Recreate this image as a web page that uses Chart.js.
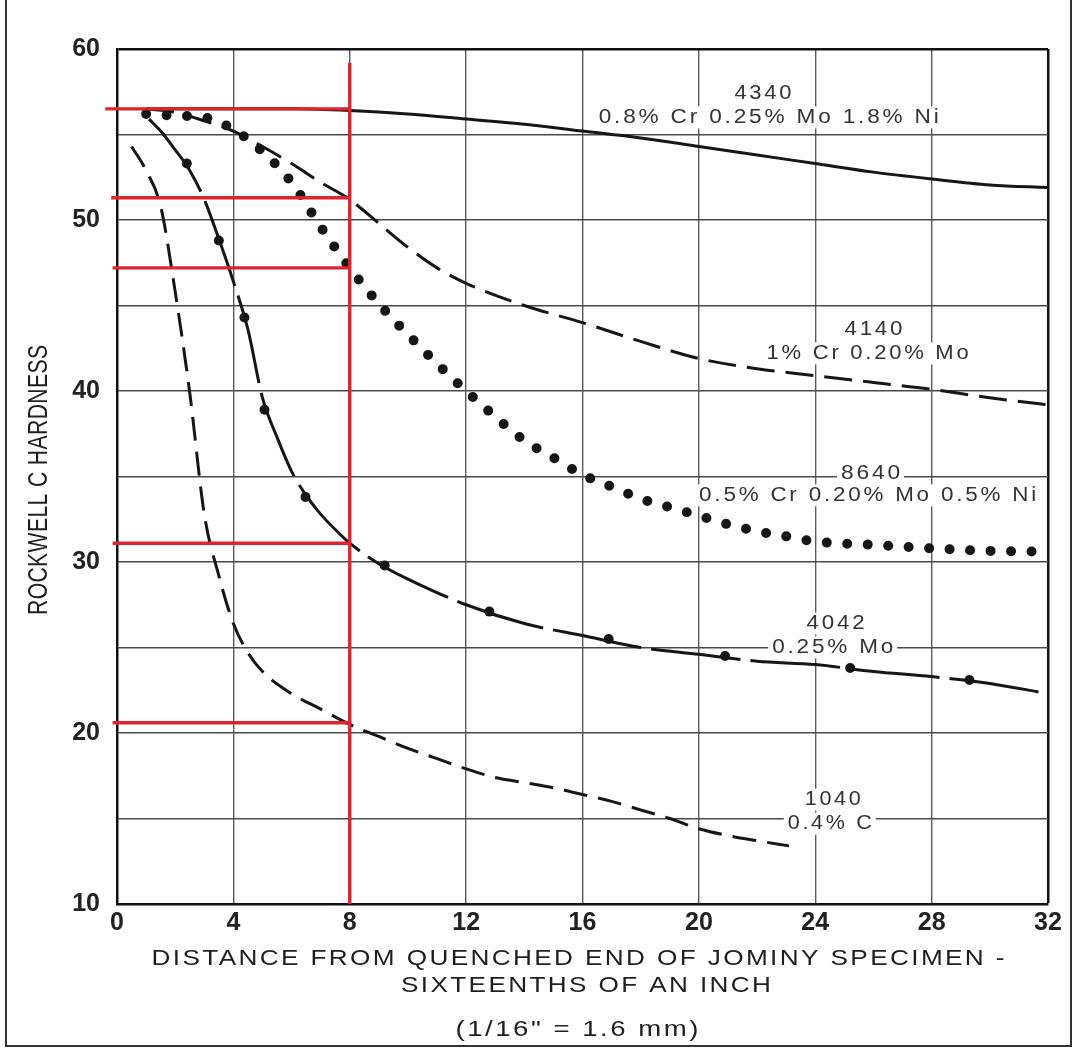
<!DOCTYPE html>
<html><head><meta charset="utf-8">
<script src="https://cdn.jsdelivr.net/npm/chart.js@4/dist/chart.umd.min.js"></script>
<style>html,body{margin:0;padding:0;background:#fff}#wrap{width:1075px;height:1052px;position:relative}canvas{display:block}</style>
</head><body><div id="wrap"><canvas id="c" width="1075" height="1052"></canvas></div>
<script>
// ---------- data ----------
const xTickValues = [0,4,8,12,16,20,24,28,32];
const yTickLabels = [10,20,30,40,50,60];

const x4340 = [1,2,4,6,8,10,12,14,16,18,20,22,24,26,28,30,32];
const y4340 = [56.5,56.5,56.5,56.5,56.4,56.2,55.9,55.6,55.2,54.8,54.3,53.8,53.3,52.8,52.4,52.05,51.9];

const x4140 = [1,2,3,4,5,6,7,8,9,10,11,12,14,16,18,20,22,24,26,28,30,32];
const y4140 = [56.5,56.3,55.8,55.2,54.3,53.3,52.2,51.2,49.8,48.4,47.2,46.3,45.0,44.0,42.9,41.9,41.3,40.9,40.5,40.1,39.6,39.2];

const x8640 = [1,2,3,4,5,6,7,8,9,10,11,12,13,14,15,16,17,18,19,20,21,22,23,24,26,28,30,32];
const y8640 = [56.2,56.1,56.0,55.3,54.0,52.2,49.6,47.2,45.1,43.3,41.6,40.0,38.5,37.1,36.1,35.1,34.4,33.7,33.2,32.7,32.2,31.8,31.5,31.2,31.0,30.8,30.65,30.6];

const x4042 = [1.1,1.5,2,2.5,3,3.5,4,4.5,5,5.5,6,6.5,7,7.5,8,9,10,12,14,16,18,20,22,24,26,28,30,32];
const y4042 = [55.9,55.2,54.1,52.9,51.2,48.9,46.4,43.6,39.6,37.3,35.3,33.9,32.8,31.9,31.1,29.9,29.0,27.5,26.4,25.7,25.0,24.6,24.2,24.0,23.6,23.3,22.9,22.3];
const x4042Dots = [2.4,3.5,4.38,5.07,6.48,9.2,12.8,16.9,20.9,25.2,29.3];
const y4042Dots = [53.3,48.8,44.3,38.9,33.8,29.8,27.1,25.5,24.5,23.8,23.1];

const x1040 = [0.5,1,1.5,2,2.5,3,3.5,4,4.5,5,6,7,8,9,10,11,12,13,14,15,16,17,18,19,20,21,22,23.1];
const y1040 = [54.3,52.9,50.8,45.8,39.9,32.8,29.2,26.4,24.7,23.6,22.3,21.4,20.5,19.8,19.1,18.5,17.9,17.4,17.1,16.8,16.4,16.0,15.5,15.0,14.4,14.0,13.7,13.4];

const redLevels = [56.5,51.3,47.2,31.1,20.6];
const redStartX = [-0.4,-0.2,-0.15,-0.15,-0.15];
const redMarkX = 8;
const redVerticalRange = [10,59.2];

const curveLabels = ['4340','0.8% Cr 0.25% Mo 1.8% Ni','4140','1% Cr 0.20% Mo','8640','0.5% Cr 0.20% Mo 0.5% Ni','4042','0.25% Mo','1040','0.4% C'];
const labelAnchorX = [22.2,22.4,26.0,25.8,25.9,25.8,24.7,24.6,24.6,24.5];
const labelAnchorY = [57.4,56.0,43.6,42.2,35.2,33.9,26.4,25.0,16.1,14.7];

const yTitle = 'ROCKWELL C HARDNESS';
const xTitleLines = ['DISTANCE FROM QUENCHED END OF JOMINY SPECIMEN -','SIXTEENTHS OF AN INCH','(1/16" = 1.6 mm)'];

// ---------- styles ----------
const labelWidths = [57,340,58,202,59,337,58,121,56,84];
const xTitleBoxes = [[578,959,853],[586,986,370],[577,1030,243]];
const FONT = '"Liberation Sans", Arial, sans-serif';
const INK = '#161616';
const RED = '#e0232c';

const pts = (xs, ys) => xs.map((x,i)=>({x, y: ys[i]}));

const datasets = [];
redLevels.forEach((lv,i)=>{
  datasets.push({data:[{x:redStartX[i],y:lv},{x:redMarkX,y:lv}], borderColor:RED, borderWidth:3.4, pointRadius:0, clip:false, order:0});
});
datasets.push({data:[{x:redMarkX,y:redVerticalRange[0]},{x:redMarkX,y:redVerticalRange[1]}], borderColor:RED, borderWidth:3.4, pointRadius:0, clip:false, order:0});

const curveBase = {pointRadius:0, cubicInterpolationMode:'monotone', borderColor:INK, fill:false, order:1};
datasets.push({...curveBase, data:pts(x4340,y4340), borderWidth:3});
datasets.push({...curveBase, data:pts(x4140,y4140), borderWidth:3, borderDash:[28,11]});
datasets.push({...curveBase, data:pts(x8640,y8640), borderWidth:10, borderDash:[0,20.5], borderCapStyle:'round'});
datasets.push({...curveBase, data:pts(x4042,y4042), borderWidth:3, borderDash:[90,10]});
datasets.push({data:pts(x4042Dots,y4042Dots), showLine:false, pointRadius:5, pointBackgroundColor:INK, pointBorderWidth:0, order:1});
datasets.push({...curveBase, data:pts(x1040,y1040), borderWidth:3, borderDash:[24,11]});

// text centred at (cx,cy), fixed letter spacing, stretched horizontally to the target width
function fitText(ctx, text, cx, cy, font, width, ls){
  ctx.save();
  ctx.font = font; ctx.letterSpacing = ls + 'px';
  const n = [...text].length;
  const total = ctx.measureText(text).width - ls; // drop trailing spacing
  const sx = width / total;
  ctx.translate(cx, cy);
  ctx.scale(sx, 1);
  ctx.textAlign = 'left'; ctx.textBaseline = 'middle';
  ctx.fillText(text, -total/2, 0);
  ctx.restore();
}

const decor = {
  id:'decor',
  beforeDatasetsDraw(chart){
    const ctx = chart.ctx, xs = chart.scales.x, ys = chart.scales.y;
    ctx.save();
    curveLabels.forEach((t,i)=>{
      const cx = xs.getPixelForValue(labelAnchorX[i]);
      const cy = ys.getPixelForValue(labelAnchorY[i]);
      ctx.fillStyle = '#fff';
      ctx.fillRect(cx - labelWidths[i]/2 - 4, cy - 11, labelWidths[i] + 8, 22);
      ctx.fillStyle = '#333';
      fitText(ctx, t, cx, cy, '20px ' + FONT, labelWidths[i], 2.5);
    });
    ctx.restore();
  },
  afterDraw(chart){
    const ctx = chart.ctx;
    ctx.save();
    ctx.fillStyle = '#1e1e1e';
    xTitleLines.forEach((t,i)=>{
      const [cx,cy,w] = xTitleBoxes[i];
      fitText(ctx, t, cx, cy, '22px ' + FONT, w, 2);
    });
    ctx.translate(39, 480);
    ctx.rotate(-Math.PI/2);
    fitText(ctx, yTitle, 0, 0, '28px ' + FONT, 270, 0.5);
    ctx.restore();
    // outer frame
    ctx.save();
    ctx.strokeStyle = '#333'; ctx.lineWidth = 2;
    ctx.beginPath();
    ctx.moveTo(6,0); ctx.lineTo(6,1046); ctx.lineTo(1071,1046); ctx.lineTo(1071,0);
    ctx.stroke();
    ctx.restore();
  }
};

new Chart(document.getElementById('c'), {
  type:'line',
  data:{datasets},
  options:{
    responsive:false, animation:false, events:[],
    layout:{padding:{top:49,right:27,left:0,bottom:0}},
    plugins:{legend:{display:false}, tooltip:{enabled:false}},
    scales:{
      x:{type:'linear', min:0, max:32,
        afterBuildTicks: s => { s.ticks = xTickValues.map(v=>({value:v})); },
        ticks:{font:{family:FONT,size:25,weight:'bold'}, color:'#222', padding:4, maxRotation:0, autoSkip:false},
        grid:{drawTicks:false, color: c => (c.tick && c.tick.value===32) ? '#111' : '#5a5a5a', lineWidth: c => (c.tick && c.tick.value===32) ? 2.5 : 1.4},
        border:{display:true, color:'#111', width:2.5},
        afterFit: s => { s.height = 148; }
      },
      y:{min:10, max:60,
        ticks:{stepSize:5, font:{family:FONT,size:25,weight:'bold'}, color:'#222', padding:17, callback: v => yTickLabels.includes(v) ? String(v) : ''},
        grid:{drawTicks:false, color: c => (c.tick && c.tick.value===60) ? '#111' : '#4a4a4a', lineWidth: c => (c.tick && c.tick.value===60) ? 2.5 : 1.4},
        border:{display:true, color:'#111', width:2.5},
        afterFit: s => { s.width = 117; }
      }
    }
  },
  plugins:[decor]
});
</script>
</body></html>
